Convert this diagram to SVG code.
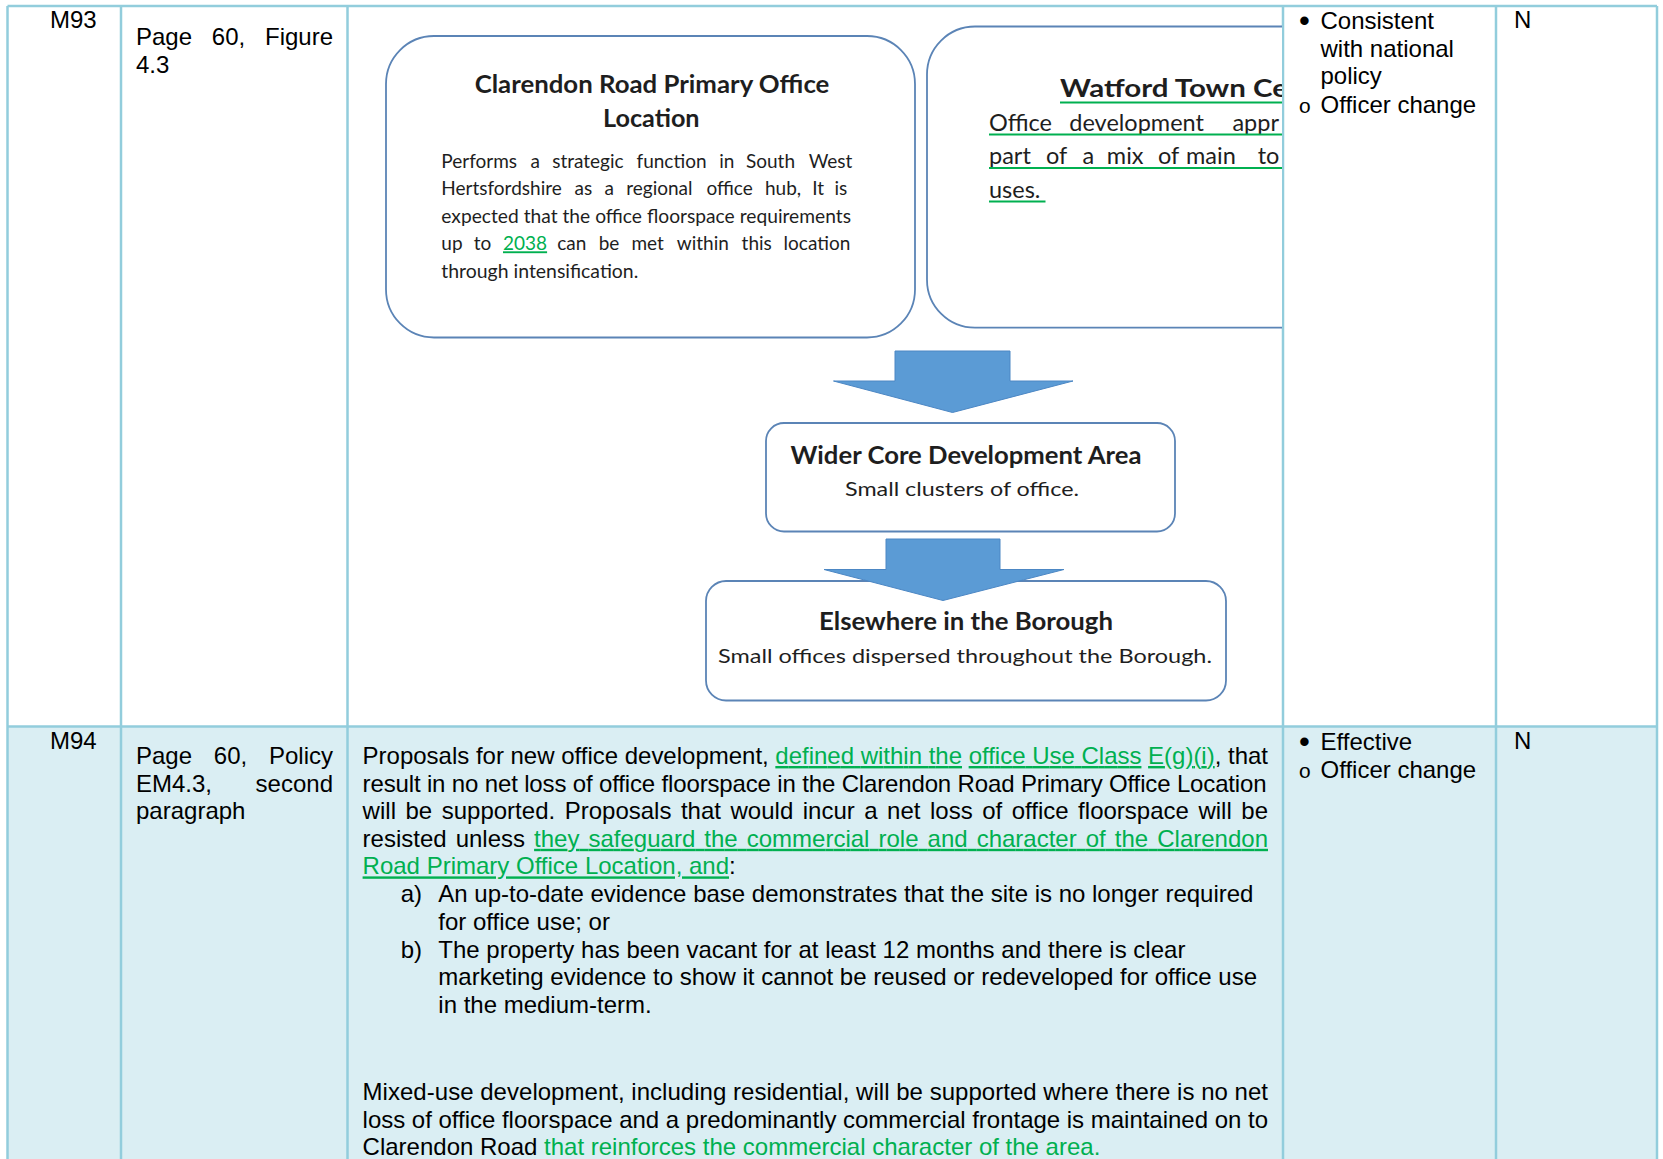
<svg xmlns="http://www.w3.org/2000/svg" width="1663" height="1159" viewBox="0 0 1663 1159">
<defs>
<style>
.t{font-family:"Liberation Sans",Arial,sans-serif;font-size:24px;fill:#000}
.g{fill:#00B050}
.u{text-decoration:underline}
.dot{font-family:"Liberation Sans",Arial,sans-serif;font-size:31px;fill:#000}
.bul{font-family:"Liberation Mono","Courier New",monospace;font-size:21px;fill:#000}
.d{font-family:Lato,"Open Sans",sans-serif;fill:#1e1e1e}
.dt{font-weight:bold;font-size:25px}
.db{font-size:19px}
.ds{font-size:20px}
.dw{font-size:23.5px}
.box{fill:#fff;stroke:#5B84B6;stroke-width:1.8}
.arr{fill:#5B9BD5;stroke:#4C87C4;stroke-width:1}
.grid{stroke:#92CDDC;stroke-width:2.5;fill:none}
.ul{stroke:#00B050;stroke-width:2}
</style>
<clipPath id="cell"><rect x="349" y="7" width="933" height="718"/></clipPath>
</defs>
<rect width="1663" height="1159" fill="#fff"/>
<rect x="7.5" y="726.5" width="1649.5" height="432.5" fill="#DAEEF3"/>

<g id="table-grid" class="grid">
<line x1="7.5" y1="6" x2="1657" y2="6"/>
<line x1="7.5" y1="726.5" x2="1657" y2="726.5"/>
<line x1="7.5" y1="6" x2="7.5" y2="1159"/>
<line x1="121" y1="6" x2="121" y2="1159"/>
<line x1="347.5" y1="6" x2="347.5" y2="1159"/>
<line x1="1283" y1="6" x2="1283" y2="1159"/>
<line x1="1496" y1="6" x2="1496" y2="1159"/>
<line x1="1657" y1="6" x2="1657" y2="1159"/>
</g>

<g id="row-m93">
<text class="t" x="50" y="28">M93</text>
<text class="t" y="45"><tspan x="136">Page</tspan><tspan x="211.8">60,</tspan></text>
<text class="t" x="333" y="45" text-anchor="end">Figure</text>
<text class="t" x="136" y="72.6">4.3</text>
<text class="dot" x="1299" y="31">•</text>
<text class="t" x="1320.5" y="29">Consistent</text>
<text class="t" x="1320.5" y="56.6">with national</text>
<text class="t" x="1320.5" y="84.2">policy</text>
<text class="bul" x="1298.5" y="112.5">o</text>
<text class="t" x="1320.5" y="112.5">Officer change</text>
<text class="t" x="1514" y="28">N</text>
</g>

<g id="diagram" clip-path="url(#cell)">
<g id="watford">
<rect class="box" x="927" y="26.5" width="600" height="301.2" rx="48"/>
<text class="d dt g" x="1060" y="96.8" textLength="228" lengthAdjust="spacingAndGlyphs">Watford Town Ce</text>
<line class="ul" x1="1060" y1="102.5" x2="1290" y2="102.5"/>
<text class="d dw g" y="131"><tspan x="989">Office</tspan><tspan x="1069.3">development</tspan><tspan x="1232.4">appr</tspan></text>
<line class="ul" x1="989" y1="134.5" x2="1290" y2="134.5"/>
<text class="d dw g" y="164.3"><tspan x="989">part</tspan><tspan x="1046">of</tspan><tspan x="1082.5">a</tspan><tspan x="1106.8">mix</tspan><tspan x="1158">of</tspan><tspan x="1186">main</tspan><tspan x="1257.7">to</tspan></text>
<line class="ul" x1="989" y1="168" x2="1290" y2="168"/>
<text class="d dw g" x="989" y="197.5">uses.</text>
<line class="ul" x1="989" y1="201.5" x2="1045.5" y2="201.5"/>
</g>

<g id="clarendon">
<rect class="box" x="386" y="36" width="529" height="301.5" rx="48"/>
<text class="d dt" x="652" y="93.3" text-anchor="middle" textLength="354.7" lengthAdjust="spacingAndGlyphs">Clarendon Road Primary Office</text>
<text class="d dt" x="651.3" y="127.3" text-anchor="middle" textLength="96.6" lengthAdjust="spacingAndGlyphs">Location</text>
<text class="d db" y="167.6"><tspan x="441.3">Performs</tspan><tspan x="530.5">a</tspan><tspan x="552.2">strategic</tspan><tspan x="636.5">function</tspan><tspan x="719.2">in</tspan><tspan x="746">South</tspan><tspan x="808.7">West</tspan></text>
<text class="d db" y="195.2"><tspan x="441.3">Hertsfordshire</tspan><tspan x="574.6">as</tspan><tspan x="604.5">a</tspan><tspan x="626.2">regional</tspan><tspan x="706.4">office</tspan><tspan x="765">hub,</tspan><tspan x="812.2">It</tspan><tspan x="834.5">is</tspan></text>
<text class="d db" x="441.3" y="222.7" textLength="409.7" lengthAdjust="spacingAndGlyphs">expected that the office floorspace requirements</text>
<text class="d db" y="250.3"><tspan x="441.3">up</tspan><tspan x="473.7">to</tspan><tspan x="503" class="g u">2038</tspan><tspan x="557.3">can</tspan><tspan x="598.7">be</tspan><tspan x="631.4">met</tspan><tspan x="676.8">within</tspan><tspan x="741.6">this</tspan><tspan x="783.6">location</tspan></text>
<text class="d db" x="441.3" y="277.9" textLength="197" lengthAdjust="spacingAndGlyphs">through intensification.</text>
</g>

<g id="wider">
<rect class="box" x="766" y="423" width="409" height="108.5" rx="18"/>
<text class="d dt" x="966" y="463.5" text-anchor="middle" textLength="351" lengthAdjust="spacingAndGlyphs">Wider Core Development Area</text>
<text class="d ds" x="962" y="495.5" text-anchor="middle" textLength="234" lengthAdjust="spacingAndGlyphs">Small clusters of office.</text>
</g>

<g id="elsewhere">
<rect class="box" x="706" y="581" width="520" height="119.5" rx="20"/>
<text class="d dt" x="966" y="630" text-anchor="middle" textLength="294" lengthAdjust="spacingAndGlyphs">Elsewhere in the Borough</text>
<text class="d ds" x="965" y="663" text-anchor="middle" textLength="494" lengthAdjust="spacingAndGlyphs">Small offices dispersed throughout the Borough.</text>
</g>

<g id="connectors">
<polygon class="arr" points="895,351 1010,351 1010,381 1073,381 952.5,412.5 833.5,381 895,381"/>
<polygon class="arr" points="886,539 1000,539 1000,569.5 1064,569.5 943,600.5 824,569.5 886,569.5"/>
</g>
</g>

<g id="row-m94">
<text class="t" x="50" y="748.8">M94</text>
<text class="t" y="764"><tspan x="136">Page</tspan><tspan x="213.8">60,</tspan></text>
<text class="t" x="333" y="764" text-anchor="end">Policy</text>
<text class="t" x="136" y="791.6">EM4.3,</text>
<text class="t" x="333" y="791.6" text-anchor="end">second</text>
<text class="t" x="136" y="819.2">paragraph</text>

<text class="t" x="362.6" y="764" textLength="905.4" lengthAdjust="spacing">Proposals for new office development, <tspan class="g u">defined within the</tspan> <tspan class="g u">office Use Class</tspan> <tspan class="g u">E(g)(i)</tspan>, that</text>
<text class="t" x="362.6" y="791.6" textLength="904" lengthAdjust="spacing">result in no net loss of office floorspace in the Clarendon Road Primary Office Location</text>
<text class="t" x="362.6" y="819.2" textLength="905.4" lengthAdjust="spacing" word-spacing="2.8">will be supported. Proposals that would incur a net loss of office floorspace will be</text>
<text class="t" x="362.6" y="846.8" textLength="905.4" lengthAdjust="spacing" word-spacing="2.4">resisted unless <tspan class="g u">they safeguard the commercial role and character of the Clarendon</tspan></text>
<text class="t" x="362.6" y="874.4"><tspan class="g u">Road Primary Office Location, and</tspan>:</text>
<text class="t" x="400.7" y="902.4">a)</text>
<text class="t" x="438.3" y="902.4">An up-to-date evidence base demonstrates that the site is no longer required</text>
<text class="t" x="438.3" y="930">for office use; or</text>
<text class="t" x="400.7" y="957.6">b)</text>
<text class="t" x="438.3" y="957.6">The property has been vacant for at least 12 months and there is clear</text>
<text class="t" x="438.3" y="985.2">marketing evidence to show it cannot be reused or redeveloped for office use</text>
<text class="t" x="438.3" y="1012.8">in the medium-term.</text>
<text class="t" x="362.6" y="1100" textLength="905.4" lengthAdjust="spacing">Mixed-use development, including residential, will be supported where there is no net</text>
<text class="t" x="362.6" y="1127.6" textLength="905.4" lengthAdjust="spacing">loss of office floorspace and a predominantly commercial frontage is maintained on to</text>
<text class="t" x="362.6" y="1155.2">Clarendon Road <tspan class="g">that reinforces the commercial character of the area.</tspan></text>

<text class="dot" x="1299" y="751.5">•</text>
<text class="t" x="1320.5" y="749.5">Effective</text>
<text class="bul" x="1298.5" y="778">o</text>
<text class="t" x="1320.5" y="778">Officer change</text>
<text class="t" x="1514" y="748.8">N</text>
</g>
</svg>
